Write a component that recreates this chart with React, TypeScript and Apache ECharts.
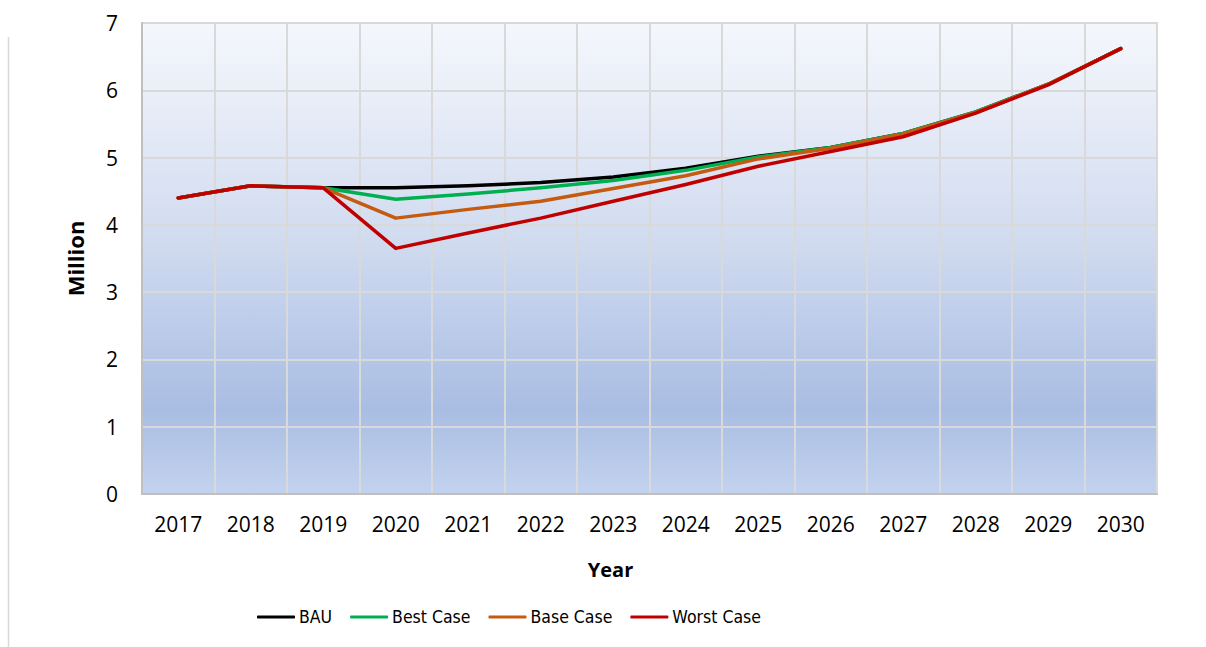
import React, { useEffect, useRef } from "react";
import * as echarts from "echarts";

const years = ["2017","2018","2019","2020","2021","2022","2023","2024","2025","2026","2027","2028","2029","2030"];
const bau =   [4.40, 4.58, 4.55, 4.55, 4.58, 4.63, 4.71, 4.84, 5.02, 5.15, 5.36, 5.68, 6.09, 6.62];
const best =  [4.40, 4.58, 4.55, 4.38, 4.46, 4.55, 4.66, 4.81, 5.01, 5.15, 5.36, 5.68, 6.09, 6.62];
const base =  [4.40, 4.58, 4.55, 4.10, 4.23, 4.35, 4.54, 4.73, 4.98, 5.14, 5.35, 5.67, 6.09, 6.62];
const worst = [4.40, 4.58, 4.55, 3.65, 3.88, 4.10, 4.35, 4.60, 4.87, 5.09, 5.31, 5.66, 6.08, 6.62];

const seriesNames = ["BAU", "Best Case", "Base Case", "Worst Case"];
const seriesColors = ["#000000", "#00b050", "#c55a11", "#c00000"];
const seriesData = [bau, best, base, worst];

const FONT = "Open Sans";
const NARROW = "'Liberation Sans Narrow', 'DejaVu Sans Condensed', 'Open Sans'";

export default function App() {
  const ref = useRef<HTMLDivElement>(null);
  useEffect(() => {
    document.body.style.margin = "0";
    const chart = echarts.init(ref.current!, null, { renderer: "svg" });
    chart.setOption({
      animation: false,
      textStyle: { fontFamily: FONT },
      grid: {
        left: 142,
        right: 49,
        top: 23,
        bottom: 153,
        show: true,
        borderColor: "#d9d9d9",
        borderWidth: 2,
        backgroundColor: new echarts.graphic.LinearGradient(0, 0, 0, 1, [
          { offset: 0, color: "#f5f7fc" },
          { offset: 0.45, color: "#d2dcf0" },
          { offset: 0.82, color: "#a9bde3" },
          { offset: 1, color: "#c3d3ee" },
        ]),
      },
      legend: {
        left: 257,
        top: 608,
        padding: 0,
        itemWidth: 38,
        itemHeight: 3,
        itemGap: 18,
        icon: "roundRect",
        textStyle: { fontFamily: NARROW, fontSize: 17.5, color: "#000", padding: [0, 0, 0, -1] },
        data: seriesNames,
      },
      xAxis: {
        type: "category",
        data: years,
        boundaryGap: true,
        name: "Year",
        nameLocation: "middle",
        nameGap: 65,
        nameTextStyle: { fontFamily: FONT, fontSize: 20, fontWeight: "bold", color: "#000", padding: [0, 78, 0, 0] },
        axisLine: { lineStyle: { color: "#bfbfbf", width: 2 } },
        axisTick: { show: false },
        axisLabel: { color: "#000", fontSize: 21, margin: 19, fontFamily: FONT },
        splitLine: { show: true, lineStyle: { color: "#d9d9d9", width: 2 } },
      },
      yAxis: {
        type: "value",
        min: 0,
        max: 7,
        interval: 1,
        name: "Million",
        nameLocation: "middle",
        nameGap: 56,
        nameRotate: 90,
        nameTextStyle: { fontFamily: FONT, fontSize: 22, fontWeight: "bold", color: "#000" },
        axisLine: { show: true, lineStyle: { color: "#bfbfbf", width: 2 } },
        axisTick: { show: false },
        axisLabel: { color: "#000", fontSize: 21, margin: 24, fontFamily: FONT },
        splitLine: { show: true, lineStyle: { color: "#d9d9d9", width: 2 } },
      },
      graphic: [
        {
          type: "line",
          shape: { x1: 8.5, y1: 37, x2: 8.5, y2: 647 },
          style: { stroke: "#d9d9d9", lineWidth: 1.5 },
        },
      ],
      series: seriesNames.map((name, i) => ({
        name,
        type: "line",
        data: seriesData[i],
        symbol: "none",
        lineStyle: { color: seriesColors[i], width: 3.5, cap: "round", join: "round" },
        itemStyle: { color: seriesColors[i] },
        z: 2 + i,
      })),
    });
    return () => chart.dispose();
  }, []);
  return <div ref={ref} style={{ width: 1206, height: 647 }} />;
}
